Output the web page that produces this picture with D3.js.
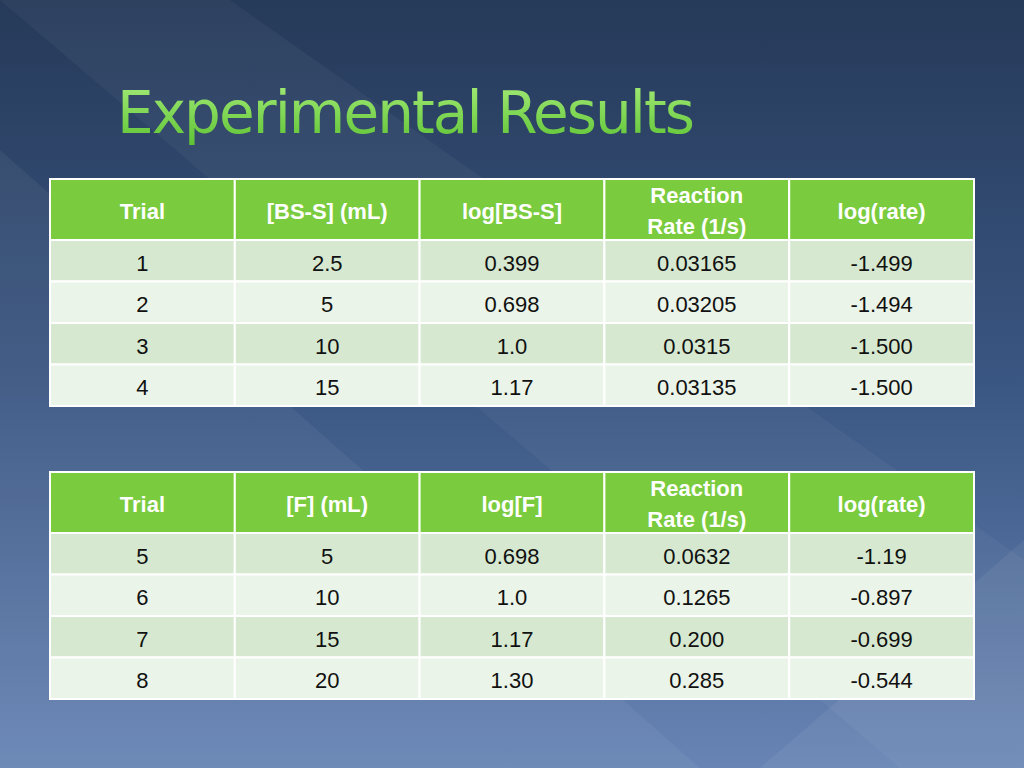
<!DOCTYPE html>
<html><head><meta charset="utf-8">
<script src="https://cdn.jsdelivr.net/npm/d3@7"></script>
<style>body{margin:0;overflow:hidden}</style>
</head><body>
<script>
// table data
var headers1 = ["Trial", "[BS-S] (mL)", "log[BS-S]", "Reaction\nRate (1/s)", "log(rate)"];
var rows1 = [
    ["1", "2.5", "0.399", "0.03165", "-1.499"],
    ["2", "5", "0.698", "0.03205", "-1.494"],
    ["3", "10", "1.0", "0.0315", "-1.500"],
    ["4", "15", "1.17", "0.03135", "-1.500"]
];
var headers2 = ["Trial", "[F] (mL)", "log[F]", "Reaction\nRate (1/s)", "log(rate)"];
var rows2 = [
    ["5", "5", "0.698", "0.0632", "-1.19"],
    ["6", "10", "1.0", "0.1265", "-0.897"],
    ["7", "15", "1.17", "0.200", "-0.699"],
    ["8", "20", "1.30", "0.285", "-0.544"]
];

var W = 1024, H = 768;
var svg = d3.select("body").append("svg").attr("width", W).attr("height", H)
    .style("font-family", "Liberation Sans, Arial, sans-serif");
var defs = svg.append("defs");

var bg = defs.append("linearGradient").attr("id", "bg").attr("x1", 0).attr("y1", 0).attr("x2", 0).attr("y2", 1);
bg.append("stop").attr("offset", 0).attr("stop-color", "#263a59");
bg.append("stop").attr("offset", 0.5).attr("stop-color", "#3a5682");
bg.append("stop").attr("offset", 1).attr("stop-color", "#6784b4");
svg.append("rect").attr("width", W).attr("height", H).attr("fill", "url(#bg)");

// soft diagonal bands
svg.append("path").attr("d", "M0,150 L0,768 L700,768 Z").attr("fill", "#ffffff").attr("opacity", 0.05);
svg.append("path").attr("d", "M0,0 L230,0 L1024,560 L1024,768 L900,768 Z").attr("fill", "#ffffff").attr("opacity", 0.04);
svg.append("path").attr("d", "M1024,540 L760,768 L1024,768 Z").attr("fill", "#ffffff").attr("opacity", 0.06);

var tg = defs.append("linearGradient").attr("id", "tg").attr("x1", 0).attr("y1", 0).attr("x2", 0).attr("y2", 1);
tg.append("stop").attr("offset", 0).attr("stop-color", "#a6ec7a");
tg.append("stop").attr("offset", 1).attr("stop-color", "#5cc232");
svg.append("text").attr("x", 117).attr("y", 133).attr("font-size", 58)
    .attr("font-family", "DejaVu Sans, sans-serif").attr("textLength", 578)
    .attr("fill", "url(#tg)").text("Experimental Results");

var x = d3.scaleBand().domain(d3.range(5)).range([50, 974]);

function drawTable(headers, rows, top) {
    var g = svg.append("g");
    var hh = 61, rh = 41.5;
    var y = d3.scaleBand().domain(d3.range(rows.length)).range([top + hh, top + hh + rh * rows.length]);
    g.selectAll(".h").data(headers).join("rect")
        .attr("x", (d, i) => x(i)).attr("y", top).attr("width", x.bandwidth()).attr("height", hh)
        .attr("fill", "#7acb3e").attr("stroke", "#fff").attr("stroke-width", 2);
    headers.forEach(function (h, i) {
        var lines = h.split("\n");
        var t = g.append("text").attr("text-anchor", "middle").attr("font-size", 22)
            .attr("font-weight", "bold").attr("fill", "#fff");
        lines.forEach(function (l, k) {
            t.append("tspan").attr("x", x(i) + x.bandwidth() / 2)
                .attr("y", top + hh / 2 + 9 + (k - (lines.length - 1) / 2) * 31).text(l);
        });
    });
    rows.forEach(function (r, ri) {
        g.selectAll(null).data(r).join("rect")
            .attr("x", (d, i) => x(i)).attr("y", y(ri)).attr("width", x.bandwidth()).attr("height", y.bandwidth())
            .attr("fill", ri % 2 ? "#ebf4e8" : "#d6e9d0").attr("stroke", "#fff").attr("stroke-width", 2);
        g.selectAll(null).data(r).join("text")
            .attr("x", (d, i) => x(i) + x.bandwidth() / 2).attr("y", y(ri) + y.bandwidth() / 2 + 10)
            .attr("text-anchor", "middle").attr("font-size", 22).attr("fill", "#111").text(d => d);
    });
}
drawTable(headers1, rows1, 179);
drawTable(headers2, rows2, 472);
</script>
</body></html>
